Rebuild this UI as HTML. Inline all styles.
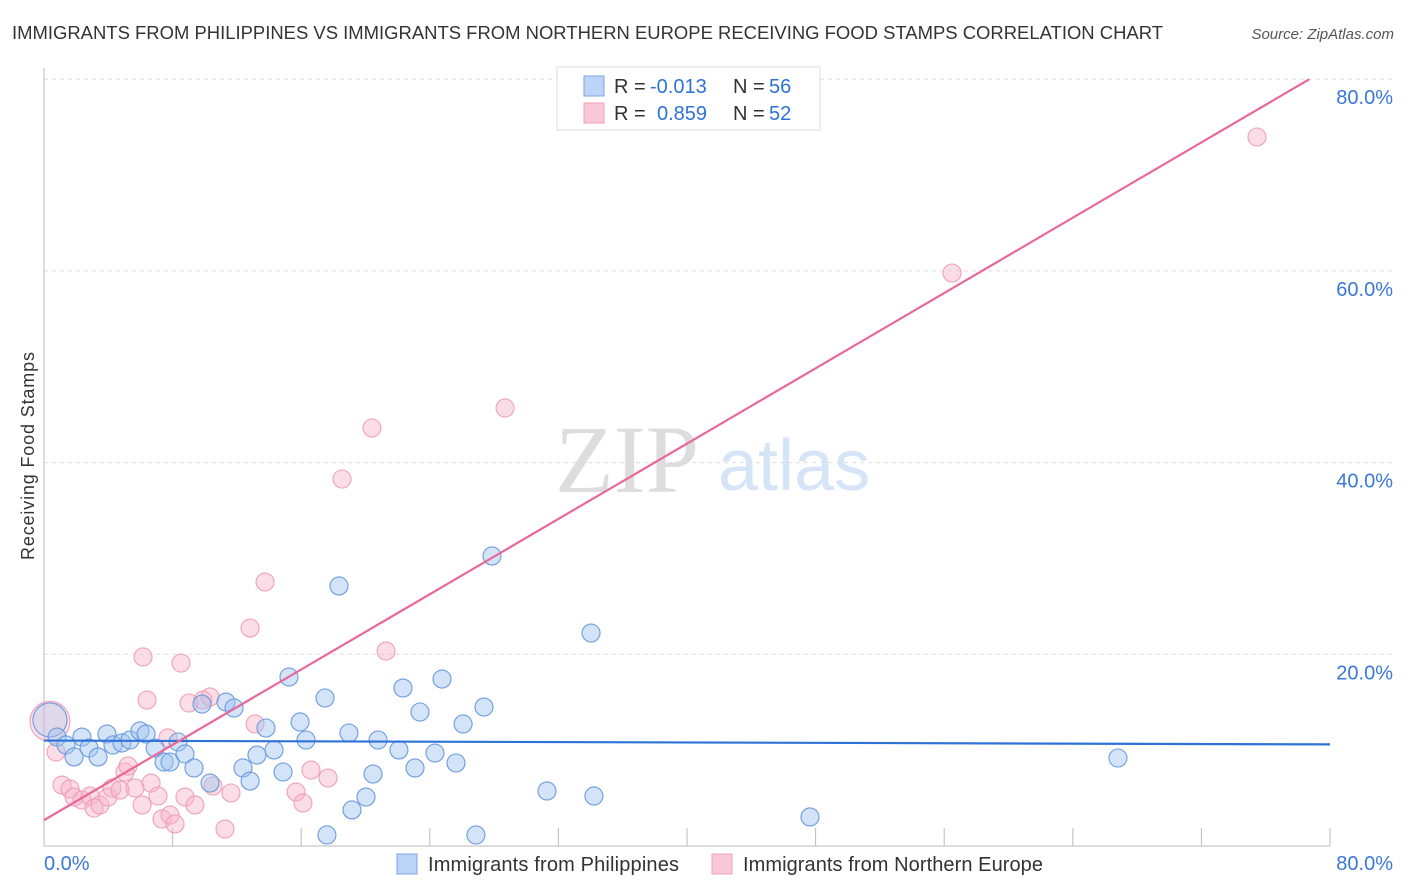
<!DOCTYPE html>
<html><head><meta charset="utf-8"><style>
body{margin:0;background:#fff;font-family:"Liberation Sans",sans-serif;}
</style></head><body>
<svg id="c" width="1406" height="892" style="display:block">
<text x="12" y="39" font-size="18" fill="#333" textLength="1151" lengthAdjust="spacingAndGlyphs">IMMIGRANTS FROM PHILIPPINES VS IMMIGRANTS FROM NORTHERN EUROPE RECEIVING FOOD STAMPS CORRELATION CHART</text>
<text x="1394" y="39" font-size="15" fill="#555" font-style="italic" text-anchor="end">Source: ZipAtlas.com</text>
<text transform="translate(34,456) rotate(-90)" font-size="18" fill="#333" text-anchor="middle" textLength="208">Receiving Food Stamps</text>
<text x="555" y="492" font-size="96" fill="#ddd" font-family="Liberation Serif,serif">ZIP</text>
<text x="718" y="490" font-size="72" fill="#d6e4f7">atlas</text>
<g id="grid"></g><g id="pts"></g><g id="lines"></g>
<g>
<rect x="557" y="67" width="263" height="63" fill="#fff" stroke="#ddd"/>
<rect x="584" y="76" width="20" height="20" fill="#bcd4f5" stroke="#7aa6e6"/>
<rect x="584" y="103" width="20" height="20" fill="#f9c8d6" stroke="#f0a0b8"/>
<text x="614" y="93" font-size="20" fill="#333">R =</text>
<text x="650" y="93" font-size="20" fill="#2f72d6">-0.013</text>
<text x="733" y="93" font-size="20" fill="#333">N =</text>
<text x="769" y="93" font-size="20" fill="#2f72d6">56</text>
<text x="614" y="120" font-size="20" fill="#333">R =</text>
<text x="657" y="120" font-size="20" fill="#2f72d6">0.859</text>
<text x="733" y="120" font-size="20" fill="#333">N =</text>
<text x="769" y="120" font-size="20" fill="#2f72d6">52</text>
</g>
<g>
<rect x="397" y="854" width="20" height="20" fill="#bcd4f5" stroke="#7aa6e6"/>
<text x="428" y="871" font-size="20" fill="#333" textLength="251">Immigrants from Philippines</text>
<rect x="712" y="854" width="20" height="20" fill="#f9c8d6" stroke="#f0a0b8"/>
<text x="743" y="871" font-size="20" fill="#333" textLength="300">Immigrants from Northern Europe</text>
</g>
</svg>
<script>
const yTicks=[20,40,60,80];
const yTickLabels=["20.0%","40.0%","60.0%","80.0%"];
const xTicks=[0,8,16,24,32,40,48,56,64,72,80];
const xEndLabels=["0.0%","80.0%"];
const blueX=[0.81,2.36,1.37,2.80,3.36,1.87,3.92,4.29,4.85,5.35,5.97,6.35,6.91,7.47,7.84,8.34,8.77,9.33,9.83,10.33,11.32,11.82,12.38,12.82,13.25,13.81,14.31,14.87,15.24,15.93,16.30,17.48,17.60,18.35,18.97,19.16,20.03,20.47,20.78,22.08,22.33,23.08,23.39,24.32,24.76,25.63,26.07,26.87,27.37,27.87,31.29,34.03,34.21,47.65,66.81];
const blueY=[11.37,11.37,10.54,10.22,9.29,9.29,11.68,10.54,10.75,11.06,12.00,11.68,10.22,8.76,8.76,10.85,9.60,8.14,14.81,6.57,15.02,14.40,8.14,6.78,9.49,12.31,10.02,7.72,17.63,12.94,11.06,15.44,1.15,27.13,11.79,3.76,5.11,7.51,11.06,10.02,16.48,8.14,13.98,9.70,17.42,8.66,12.73,1.15,14.50,30.26,5.74,22.22,5.22,3.03,9.18];
const pinkX=[0.75,1.12,1.62,1.87,2.36,2.86,3.11,3.48,3.98,4.23,4.73,5.04,5.23,5.66,6.10,6.16,6.41,6.66,7.09,7.34,7.71,7.84,8.15,8.52,8.77,9.02,9.39,9.89,10.33,10.51,11.26,11.63,12.82,13.13,13.75,15.68,16.11,16.61,17.67,18.54,20.40,21.28,28.68,56.49,75.46];
const pinkY=[9.81,6.36,5.95,5.11,4.80,5.22,3.96,4.28,5.11,6.05,5.84,7.72,8.35,6.05,4.28,19.72,15.23,6.57,5.22,2.82,11.27,3.23,2.30,19.09,5.11,14.92,4.28,15.23,15.55,6.26,1.77,5.53,22.74,12.73,27.54,5.63,4.49,7.93,7.09,38.29,43.61,20.34,45.70,59.78,73.97];
const bigBlue=[0.37,13.15], bigPink=[0.37,13.0];
const blueFit=[11.0,10.6], pinkFit=[2.7,0.982];
const NS='http://www.w3.org/2000/svg';
const xs=v=>44+v*16.075, ys=v=>846-v*9.585;
function mk(tag,at,parent){const e=document.createElementNS(NS,tag);for(const k in at)e.setAttribute(k,at[k]);parent.appendChild(e);return e;}
const g=document.getElementById('grid');
yTicks.forEach((t,i)=>{
 const l=mk('line',{x1:44,x2:1394,y1:ys(t),y2:ys(t),stroke:'#ddd','stroke-dasharray':'4,4'},g);
 
 
 const tx=mk('text',{x:1393,y:ys(t)+25,'font-size':20,fill:'#3a78d8','text-anchor':'end'},g);
 tx.textContent=yTickLabels[i];
 
 
});
const ax=mk('line',{x1:44,x2:44,y1:68,y2:846,stroke:'#bbb'},g);


const bx=mk('line',{x1:44,x2:1330,y1:846,y2:846,stroke:'#bbb'},g);


xTicks.forEach(t=>{const l=mk('line',{x1:xs(t),x2:xs(t),y1:828,y2:846,stroke:'#bbb'},g);
 
 });
[[0,'start'],[80,'end']].forEach((d,i)=>{const tx=mk('text',{x:i?1393:44,y:870,'font-size':20,fill:'#3a78d8','text-anchor':d[1]},g);
 tx.textContent=xEndLabels[i];
 
 });
const p=document.getElementById('pts');
function dot(x,y,r,blue,op){const c=mk('circle',{cx:xs(x),cy:ys(y),r:r,fill:blue?'rgba(160,196,240,'+op+')':'rgba(246,180,200,'+op+')',stroke:blue?'#6a9be0':'#f0a0b8','stroke-width':1.1},p);
 
 }
dot(bigPink[0],bigPink[1],20,false,0.4);
dot(bigBlue[0],bigBlue[1],17,true,0.3);
pinkX.forEach((x,i)=>dot(x,pinkY[i],9,false,0.45));
blueX.forEach((x,i)=>dot(x,blueY[i],9,true,0.45));
const L=document.getElementById('lines');
const b=mk('line',{x1:xs(0),y1:ys(blueFit[0]),x2:xs(80),y2:ys(blueFit[1]),stroke:'#2f72d6','stroke-width':2.2},L);


const xe=(80-pinkFit[0])/pinkFit[1];
const pl=mk('line',{x1:xs(0),y1:ys(pinkFit[0]),x2:xs(xe),y2:ys(80),stroke:'#e8689a','stroke-width':2.2},L);


</script>
</body></html>
